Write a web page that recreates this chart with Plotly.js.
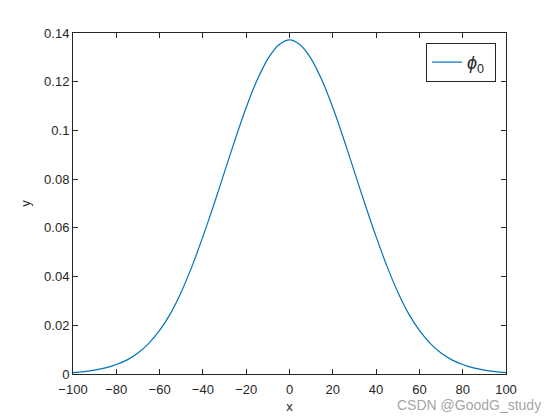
<!DOCTYPE html>
<html>
<head>
<meta charset="utf-8">
<script src="https://cdn.plot.ly/plotly-3.0.1.min.js"></script>
<style>html,body{margin:0;padding:0;background:#fff;}#chart{width:560px;height:420px;}</style>
</head>
<body>
<div id="chart"></div>
<script>
const xValues = [-100, -95, -90, -85, -80, -75, -70, -65, -60, -55, -50, -45, -40, -35, -30, -25, -20, -15, -10, -5, 0,
                 5, 10, 15, 20, 25, 30, 35, 40, 45, 50, 55, 60, 65, 70, 75, 80, 85, 90, 95, 100];
const phi0 = [0.0006, 0.0010, 0.0016, 0.0025, 0.0039, 0.0058, 0.0086, 0.0126, 0.0179, 0.0248, 0.0337, 0.0443, 0.0564, 0.0694, 0.0830, 0.0966, 0.1094, 0.1206, 0.1294, 0.1351, 0.1372,
              0.1351, 0.1294, 0.1206, 0.1094, 0.0966, 0.0830, 0.0694, 0.0564, 0.0443, 0.0337, 0.0248, 0.0179, 0.0126, 0.0086, 0.0058, 0.0039, 0.0025, 0.0016, 0.0010, 0.0006];
const xTicks = [-100, -80, -60, -40, -20, 0, 20, 40, 60, 80, 100];
const yTicks = [0, 0.02, 0.04, 0.06, 0.08, 0.1, 0.12, 0.14];
const yTickText = ['0', '0.02', '0.04', '0.06', '0.08', '0.1', '0.12', '0.14'];

const ink = '#262626';
const fam = 'Liberation Sans, Arial, sans-serif';
const trace = {
  x: xValues, y: phi0, type: 'scatter', mode: 'lines',
  line: {color: '#0072BD', width: 1.2, shape: 'spline', smoothing: 0.8},
  name: '<i>ϕ</i><sub>0</sub> '
};
const axisCommon = {
  showline: true, linecolor: ink, linewidth: 1, mirror: 'ticks',
  ticks: 'inside', ticklen: 5, tickcolor: ink, tickwidth: 1,
  showgrid: false, zeroline: false,
  tickfont: {family: fam, size: 13, color: ink}
};
const layout = {
  width: 560, height: 420,
  margin: {l: 73, r: 54, t: 33, b: 46},
  paper_bgcolor: '#fff', plot_bgcolor: '#fff',
  xaxis: Object.assign({}, axisCommon, {
    range: [-100, 100], tickvals: xTicks, ticklabelstandoff: 3,
    title: {text: 'x', font: {family: fam, size: 13, color: ink}, standoff: 6}
  }),
  yaxis: Object.assign({}, axisCommon, {
    range: [0, 0.14], tickvals: yTicks, ticktext: yTickText,
    title: {text: 'y', font: {family: fam, size: 13, color: ink}, standoff: 10}
  }),
  showlegend: true,
  legend: {
    x: 0.977, y: 0.971, xanchor: 'right', yanchor: 'top',
    bordercolor: ink, borderwidth: 1, bgcolor: '#fff',
    font: {family: fam, size: 18, color: ink}
  },
  annotations: [{
    xref: 'paper', yref: 'paper', x: 1.085, y: -0.09, xanchor: 'right', yanchor: 'middle',
    text: 'CSDN @GoodG_study', showarrow: false,
    font: {family: fam, size: 14, color: 'rgba(140,140,140,0.8)'}
  }]
};
Plotly.newPlot('chart', [trace], layout, {staticPlot: true, displayModeBar: false});
</script>
</body>
</html>
